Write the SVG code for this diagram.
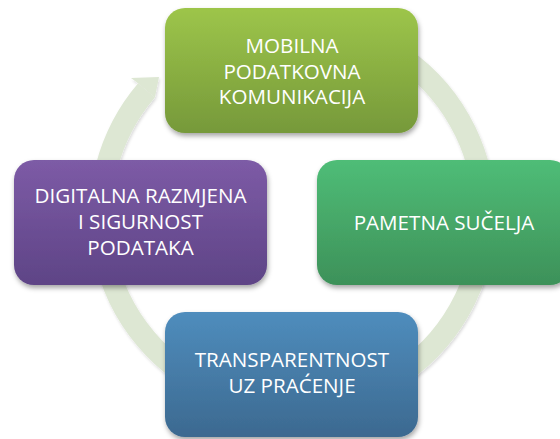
<svg xmlns="http://www.w3.org/2000/svg" width="560" height="439" viewBox="0 0 560 439">
  <style>
    .lbl { font-family: "Open Sans", "Liberation Sans", sans-serif; font-size: 20.6px; fill: #ffffff; text-anchor: middle; }
    .ring { fill: none; stroke: #dde7d3; stroke-width: 22; }
    .head { fill: #dde7d3; }
  </style>
  <defs>
    <filter id="sh" x="-10%" y="-10%" width="125%" height="130%">
      <feDropShadow dx="1" dy="3" stdDeviation="2.5" flood-color="#000" flood-opacity="0.35"/>
    </filter>
    <filter id="rsh" x="-10%" y="-10%" width="120%" height="120%">
      <feDropShadow dx="1" dy="2" stdDeviation="1.5" flood-color="#000" flood-opacity="0.15"/>
    </filter>
    <linearGradient id="gTop" x1="0" y1="0" x2="0" y2="1">
      <stop offset="0" stop-color="#9dc54a"/>
      <stop offset="1" stop-color="#76993a"/>
    </linearGradient>
    <linearGradient id="gLeft" x1="0" y1="0" x2="0" y2="1">
      <stop offset="0" stop-color="#7d5ba6"/>
      <stop offset="1" stop-color="#5e4486"/>
    </linearGradient>
    <linearGradient id="gRight" x1="0" y1="0" x2="0" y2="1">
      <stop offset="0" stop-color="#4fbd77"/>
      <stop offset="1" stop-color="#3d9159"/>
    </linearGradient>
    <linearGradient id="gBottom" x1="0" y1="0" x2="0" y2="1">
      <stop offset="0" stop-color="#4f8dbd"/>
      <stop offset="1" stop-color="#3c6990"/>
    </linearGradient>
  </defs>
  <rect x="0" y="0" width="560" height="439" fill="#ffffff"/>
  <g id="connectors" filter="url(#rsh)">
    <path class="ring" d="M 226.8 34.6 A 192 192 0 1 1 146.5 90.3"/>
    <polygon class="head" points="138.1,83.2 131,78 159,77 154.5,99.5 154.9,97.5"/>
  </g>
  <g id="node-top">
    <rect x="165" y="8" width="253" height="125" rx="20" fill="url(#gTop)" filter="url(#sh)"/>
    <text class="lbl" x="292" y="53">MOBILNA</text>
    <text class="lbl" x="292" y="78.5">PODATKOVNA</text>
    <text class="lbl" x="292" y="104">KOMUNIKACIJA</text>
  </g>
  <g id="node-right">
    <rect x="317" y="160" width="253" height="125" rx="20" fill="url(#gRight)" filter="url(#sh)"/>
    <text class="lbl" x="444" y="230">PAMETNA SUČELJA</text>
  </g>
  <g id="node-bottom">
    <rect x="165" y="312" width="253" height="125" rx="20" fill="url(#gBottom)" filter="url(#sh)"/>
    <text class="lbl" x="292" y="367">TRANSPARENTNOST</text>
    <text class="lbl" x="292" y="393">UZ PRAĆENJE</text>
  </g>
  <g id="node-left">
    <rect x="14" y="160" width="253" height="125" rx="20" fill="url(#gLeft)" filter="url(#sh)"/>
    <text class="lbl" x="140.5" y="203">DIGITALNA RAZMJENA</text>
    <text class="lbl" x="140.5" y="229">I SIGURNOST</text>
    <text class="lbl" x="140.5" y="255">PODATAKA</text>
  </g>
</svg>
